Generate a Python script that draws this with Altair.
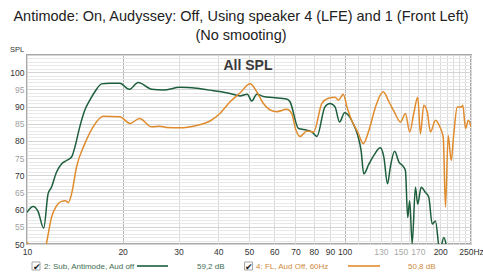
import altair as alt
import pandas as pd

# ---------------- data ----------------
SUB_FREQ = [10.0, 10.45, 10.83, 11.29, 11.65, 11.94, 12.38, 12.84, 13.32, 13.81, 14.15, 14.66,
            15.21, 15.77, 16.36, 17.17, 18.23, 19.6, 20.98, 22.4, 24.7, 26.9, 30.3, 34.2, 38.6,
            43.6, 46.9, 49.4, 51.0, 52.9, 55.5, 59.7, 65.7, 67.3, 71.6, 76.1, 78.9, 81.8, 86.7,
            89.9, 93.3, 96.4, 100.0, 103.3, 105.8, 110.0, 112.7, 114.9, 119.3, 123.6, 129.5,
            132.9, 136.5, 139.3, 143.7, 148.3, 152.2, 155.4, 158.0, 160.3, 163.2, 167.1, 169.9,
            174.2, 179.7, 184.1, 188.7, 193.2, 199.4, 205.3, 209.3, 215.0, 250.0]
SUB_SPL = [59.2, 60.9, 59.5, 54.6, 64.6, 66.5, 70.9, 73.3, 74.3, 75.3, 78.2, 84.1,
           89.0, 91.9, 94.3, 96.6, 96.8, 96.8, 95.0, 97.0, 95.0, 94.8, 95.6, 95.3, 94.6,
           93.8, 93.1, 93.6, 91.6, 93.6, 92.9, 92.6, 92.2, 91.4, 83.6, 83.1, 82.6, 81.3, 89.9,
           90.9, 89.9, 85.5, 88.2, 87.2, 85.5, 81.6, 77.2, 70.4, 73.3, 75.8, 78.0,
           75.3, 67.5, 72.4, 77.0, 73.8, 72.8, 71.4, 57.7, 62.6, 50.1, 66.5, 61.6,
           66.5, 65.0, 63.6, 55.8, 56.7, 48.0, 51.9, 49.5, 44.0, 40.0]

FL_FREQ = [10.0, 10.3, 11.0, 11.5, 11.94, 12.38, 12.84, 13.2, 13.5, 13.81, 14.32, 15.21, 16.15,
           17.37, 19.6, 21.1, 22.6, 24.7, 26.2, 27.5, 30.3, 34.2, 37.7, 40.5, 43.6, 46.9,
           50.4, 52.9, 55.5, 58.3, 61.2, 65.7, 68.1, 70.3, 72.4, 76.1, 79.9, 84.8, 88.9,
           93.3, 95.7, 99.0, 102.0, 105.8, 110.0, 114.5, 119.3, 125.1, 132.3, 137.9, 143.2,
           150.0, 155.4, 160.3, 165.1, 169.9, 173.3, 177.5, 182.0, 186.4, 193.2, 199.4,
           204.4, 207.8, 211.9, 216.6, 220.7, 226.3, 232.9, 235.6, 240.3, 245.1, 250.0]
FL_SPL = [50.5, 49.0, 45.0, 50.0, 57.7, 61.1, 62.4, 62.6, 62.1, 64.5, 72.4, 79.2, 84.1,
          87.2, 87.0, 85.1, 86.5, 84.1, 84.3, 83.9, 83.8, 84.5, 85.8, 88.0, 91.4, 94.0,
          96.6, 94.3, 90.9, 89.0, 88.5, 89.2, 88.0, 83.1, 81.3, 82.9, 82.6, 90.9, 92.4,
          92.7, 91.9, 93.6, 89.5, 85.5, 82.6, 79.2, 83.1, 89.9, 94.3, 91.4, 88.5,
          85.5, 88.0, 82.6, 88.0, 92.7, 82.1, 90.4, 88.5, 82.6, 86.0, 84.1,
          81.1, 60.8, 81.6, 74.3, 82.1, 89.9, 89.9, 90.4, 83.6, 86.0, 84.1]

SERIES = ["2: Sub, Antimode, Aud off", "4: FL, Aud Off, 60Hz"]
SERIES_LEVEL = ["59,2 dB", "50,8 dB"]
COLORS = ["#1d5e3c", "#e08b2c"]
TEXT_COLORS = ["#3f6e52", "#cf8a3e"]

X_GRID = list(range(10, 101, 10)) + list(range(110, 251, 10))
X_LABELS = [10, 20, 30, 40, 50, 60, 70, 80, 90, 100, 130, 150, 170, 200, 250]
X_LIGHT = [130, 150, 170]
Y_GRID = list(range(50, 106))

TITLE_1 = "Antimode: On, Audyssey: Off, Using speaker 4 (LFE) and 1 (Front Left)"
TITLE_2 = "(No smooting)"
INNER = "All SPL"
Y_TITLE = "SPL"

FONT = "Liberation Sans"

df = pd.concat([
    pd.DataFrame({"f": SUB_FREQ, "spl": SUB_SPL, "s": SERIES[0]}),
    pd.DataFrame({"f": FL_FREQ, "spl": FL_SPL, "s": SERIES[1]}),
])

W, H = 444, 189

x_lbl_list = ",".join(str(v) for v in X_LABELS)
x_label_expr = (f"indexof([{x_lbl_list}], datum.value) >= 0 ? "
                f"(datum.value == 250 ? '250Hz' : datum.value + '') : ''")
x_light_test = " || ".join(f"datum.value == {v}" for v in X_LIGHT)

x_axis = alt.Axis(
    values=X_GRID, labelExpr=x_label_expr, title=None, domain=False, ticks=False,
    labelFlush=False, labelOverlap=False, labelPadding=3, labelFontSize=8.5, labelFont=FONT,
    labelColor={"condition": {"test": x_light_test, "value": "#a8a8a8"}, "value": "#333333"},
    gridColor={"condition": {"test": "datum.value == 20 || datum.value == 100", "value": "#b4b4b4"},
               "value": "#dadada"},
    gridWidth=1,
)
y_axis = alt.Axis(
    values=Y_GRID, labelExpr="datum.value % 5 == 0 && datum.value <= 100 ? datum.value + '' : ''",
    title=None, domain=False, ticks=False, labelOverlap=False, labelPadding=3,
    labelFontSize=8.5, labelFont=FONT,
    labelColor={"condition": {"test": "datum.value % 10 == 0", "value": "#333333"}, "value": "#a0a0a0"},
    gridColor={"condition": {"test": "datum.value % 5 == 0", "value": "#d4d4d4"}, "value": "#e8e8e8"},
    gridWidth=1,
)

lines = alt.Chart(df).mark_line(clip=True, strokeWidth=1.5, interpolate="monotone").encode(
    x=alt.X("f:Q", scale=alt.Scale(type="log", domain=[10, 250], nice=False), axis=x_axis),
    y=alt.Y("spl:Q", scale=alt.Scale(domain=[50, 105], nice=False, zero=False), axis=y_axis),
    color=alt.Color("s:N", scale=alt.Scale(domain=SERIES, range=COLORS), legend=None),
    order=alt.Order("f:Q"),
)

one = pd.DataFrame({"k": [0]})


def txt(s, x, y, size, color, weight="normal", align="left"):
    return alt.Chart(one).mark_text(text=s, font=FONT, fontSize=size, color=color,
                                    fontWeight=weight, align=align, baseline="alphabetic").encode(
        x=alt.value(x), y=alt.value(y))


layers = [lines,
          txt(TITLE_1, 214, -34, 14.5, "#222222", align="center"),
          txt(TITLE_2, 214, -15, 14.5, "#222222", align="center"),
          txt(INNER, 221, 15, 14, "#3a3a3a", weight="bold", align="center"),
          txt(Y_TITLE, -17, -3, 7.5, "#333333")]

# legend row
LY = 211
for i, (cx, tx, l0, l1, vx) in enumerate([(9, 17, 110, 141, 170), (221.5, 229, 321, 353, 381)]):
    layers.append(alt.Chart(one).mark_square(size=64, filled=True, color="#ffffff",
                                             stroke="#808080", strokeWidth=1).encode(
        x=alt.value(cx), y=alt.value(LY)))
    layers.append(txt("✔", cx - 3.5, LY + 3.5, 9, "#222222"))
    layers.append(txt(SERIES[i], tx, LY + 3, 8, TEXT_COLORS[i]))
    layers.append(alt.Chart(one).mark_rule(color=COLORS[i], strokeWidth=1.6).encode(
        x=alt.value(l0), x2=alt.value(l1), y=alt.value(LY)))
    layers.append(txt(SERIES_LEVEL[i], vx, LY + 3, 8, TEXT_COLORS[i]))

chart = alt.layer(*layers).properties(
    width=W, height=H,
    autosize=alt.AutoSizeParams(type="none"),
    padding={"left": 27, "top": 55, "right": 12, "bottom": 31},
    background="#ffffff",
).configure_view(stroke="#a8a8a8", strokeWidth=2)

chart.save("out.html", embed_options={"renderer": "svg", "actions": False})
